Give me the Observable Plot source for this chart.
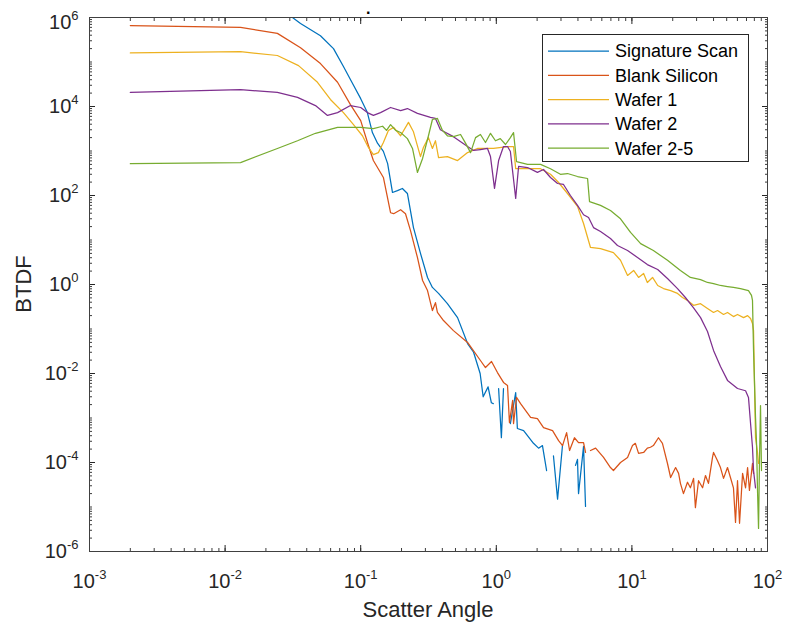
<!DOCTYPE html>
<html>
<head>
<meta charset="utf-8">
<script src="https://cdn.jsdelivr.net/npm/d3@7"></script>
<script src="https://cdn.jsdelivr.net/npm/@observablehq/plot@0.6"></script>
<style>
  html, body { margin: 0; padding: 0; background: #ffffff; }
  svg { display: block; }
</style>
</head>
<body>
<div id="chart"></div>
<script>
// ---------------- data ----------------
const seriesNames = ["Signature Scan", "Blank Silicon", "Wafer 1", "Wafer 2", "Wafer 2-5"];
const seriesColors = ["#0072BD", "#D95319", "#EDB120", "#7E2F8E", "#77AC30"];

const signatureAngle = [0.028, 0.036, 0.0505, 0.063, 0.0746, 0.0885, 0.1, 0.112, 0.122, 0.133, 0.147, 0.158, 0.1715, 0.1866, 0.203, 0.221, 0.245, 0.276, 0.311, 0.338, 0.375, 0.436, 0.518, 0.614, 0.68, 0.76, 0.80, 0.87, 0.92, 0.95, 1.0, 1.04, 1.09, 1.13, 1.2, 1.27, 1.39, 1.43, 1.59, 1.88, 2.05, 2.19, 2.35, 2.5, 2.64, 2.83, 3.08, 3.5, 3.84, 3.97, 4.04, 4.40, 4.55];
const signatureBTDF = [1.3e6, 7.3e5, 3.9e5, 2.0e5, 7.9e4, 3.0e4, 1.5e4, 7.3e3, 2.6e3, 1.5e3, 980, 520, 117, 129, 144, 111, 19, 5.0, 1.44, 0.86, 0.63, 0.37, 0.18, 0.047, 0.03, 0.01, 0.003, 0.005, 0.0022, 0.0021, null, 0.0046, 3.6e-4, 0.0046, null, 7.5e-4, 3.7e-3, 5.8e-4, 5.2e-4, 2.7e-4, 2.1e-4, 2.4e-4, 6.6e-5, null, 1.4e-4, 1.5e-5, 2.5e-4, null, 8.6e-5, 1.17e-4, 2.0e-5, 2.3e-4, 1.03e-5];

const blankAngle = [0.002, 0.013, 0.0243, 0.036, 0.0505, 0.0675, 0.084, 0.1, 0.114, 0.124, 0.147, 0.166, 0.175, 0.197, 0.214, 0.233, 0.262, 0.286, 0.311, 0.338, 0.356, 0.368, 0.408, 0.483, 0.614, 0.764, 0.832, 0.922, 1.02, 1.13, 1.21, 1.25, 1.32, 1.34, 1.41, 1.51, 1.79, 2.01, 2.23, 2.60, 2.88, 3.08, 3.30, 3.47, 3.77, 4.04, 4.40, 4.55, 4.7, 4.95, 5.40, 6.18, 6.95, 7.31, 8.24, 9.29, 10.1, 10.6, 11.2, 12.2, 13.0, 13.7, 14.4, 15.7, 16.8, 18.3, 19.3, 21.0, 22.1, 22.8, 24.0, 25.7, 27.0, 28.5, 29.4, 31.0, 33.2, 34.9, 36.7, 39.3, 40.0, 42.8, 45.0, 47.4, 50.7, 53.3, 56.1, 58.1, 60.1, 62.2, 65.5, 68.9, 71.3, 73.6, 77.5, 78.9];
const blankBTDF = [6.6e5, 6.0e5, 4.4e5, 2.1e5, 9.2e4, 3.5e4, 1.1e4, 4.8e3, 1.33e3, 610, 254, 41, 39, 48, 39, 16.3, 4.05, 1.23, 0.73, 0.26, 0.39, 0.235, 0.155, 0.092, 0.050, 0.0196, 0.0136, 0.0186, 0.0105, 0.0063, 0.0054, 7.9e-4, 0.0025, 7.5e-4, 0.0029, 0.0021, 1.03e-3, 9.7e-4, 6.1e-4, 5.2e-4, 3.1e-4, 2.4e-4, 4.7e-4, 1.86e-4, 3.6e-4, 2.8e-4, 2.8e-4, 1.68e-4, null, 1.86e-4, 2.1e-4, 1.3e-4, 7.7e-5, 6.6e-5, 1.0e-4, 1.3e-4, 2.4e-4, 2.7e-4, 1.6e-4, 1.68e-4, 2.1e-4, 2.2e-4, 2.4e-4, 3.6e-4, 2.7e-4, 9.5e-5, 4.6e-5, 7.7e-5, 5.7e-5, 3.4e-5, 2.0e-5, 3.6e-5, 2.7e-5, 4.4e-5, 9.7e-6, 3.9e-5, 2.7e-5, 5.1e-5, 3.4e-5, 1.3e-4, 1.68e-4, 1.1e-4, 7.7e-5, 4.4e-5, 7.7e-5, 4.6e-5, 2.7e-5, 4.5e-6, 3.9e-5, 4.3e-6, 5.7e-5, 2.7e-5, 7.7e-5, 2.35e-5, 9.5e-5, 5.7e-5];

const wafer1Angle = [0.002, 0.013, 0.0243, 0.0348, 0.048, 0.0598, 0.0746, 0.0885, 0.103, 0.114, 0.124, 0.135, 0.147, 0.160, 0.175, 0.197, 0.225, 0.245, 0.276, 0.290, 0.316, 0.338, 0.356, 0.375, 0.436, 0.518, 0.614, 0.726, 0.953, 1.21, 1.34, 1.39, 1.70, 2.12, 2.51, 2.88, 3.35, 3.97, 4.40, 4.95, 5.87, 7.31, 8.24, 9.29, 10.3, 11.2, 12.2, 13.0, 14.2, 15.5, 17.1, 19.3, 21.7, 23.6, 25.7, 28.5, 32.1, 36.1, 40.0, 42.8, 47.4, 50.7, 56.1, 60.1, 66.6, 71.3, 75.0, 77.5, 78.9, 81.6, 84.4, 85.9];
const wafer1BTDF = [1.6e5, 1.7e5, 1.4e5, 8.3e4, 3.5e4, 1.44e4, 7.3e3, 3.9e3, 2.2e3, 1.2e3, 830, 920, 1.55e3, 2.9e3, 3.4e3, 2.2e3, 4.4e3, 2.7e3, 750, 1.2e3, 2.0e3, 1.14e3, 1.7e3, 710, 750, 610, 920, 1.14e3, 1.14e3, 1.26e3, 1.26e3, 400, 400, 400, 300, 196, 111, 57, 23.5, 6.8, 6.4, 5.2, 3.5, 1.6, 2.07, 1.44, 1.77, 1.11, 1.44, 0.95, 0.81, 0.73, 0.63, 0.51, 0.44, 0.34, 0.37, 0.29, 0.235, 0.26, 0.212, 0.235, 0.19, 0.212, 0.18, 0.20, 0.172, 0.133, 0.092, 3.6e-4, 1.68e-4, 9.5e-5];

const wafer2Angle = [0.002, 0.013, 0.0243, 0.0342, 0.0464, 0.0569, 0.0675, 0.084, 0.1, 0.112, 0.124, 0.140, 0.166, 0.197, 0.221, 0.262, 0.327, 0.356, 0.387, 0.483, 0.614, 0.679, 0.764, 0.861, 0.906, 0.970, 1.04, 1.13, 1.21, 1.27, 1.39, 1.46, 1.70, 2.01, 2.23, 2.51, 2.83, 3.13, 3.52, 3.97, 4.40, 4.79, 5.21, 5.87, 6.95, 7.83, 9.29, 11.0, 13.0, 15.5, 18.3, 21.7, 24.8, 28.5, 32.1, 36.1, 40.0, 45.0, 50.7, 60.1, 68.9, 72.4, 75.0, 77.5, 78.9, 81.6];
const wafer2BTDF = [2.07e4, 2.4e4, 2.07e4, 1.6e4, 1.05e4, 6.3e3, 7.3e3, 1.05e4, 9.5e3, 7.3e3, 6.3e3, 7.3e3, 9.5e3, 8.1e3, 9.0e3, 7.0e3, 5.7e3, 5.4e3, 3.0e3, 2.1e3, 1.26e3, 1.03e3, 1.08e3, 1.14e3, 750, 144, 610, 1.26e3, 1.26e3, 975, 86, 450, 425, 330, 384, 254, 186, 177, 100, 60, 37, 32, 19, 15.5, 10.8, 7.5, 5.8, 4.05, 2.8, 2.17, 1.36, 0.81, 0.51, 0.30, 0.18, 0.088, 0.033, 0.0144, 0.0070, 0.0046, 0.0041, 0.0029, 7.5e-4, 2.2e-4, 6.6e-5, 2.7e-5];

const wafer25Angle = [0.002, 0.013, 0.0243, 0.0342, 0.0464, 0.0675, 0.1, 0.124, 0.145, 0.155, 0.166, 0.181, 0.197, 0.221, 0.241, 0.262, 0.286, 0.316, 0.338, 0.368, 0.401, 0.436, 0.483, 0.545, 0.593, 0.646, 0.703, 0.764, 0.832, 0.906, 0.986, 1.07, 1.17, 1.27, 1.34, 1.41, 1.70, 2.12, 2.51, 2.97, 3.35, 3.97, 4.71, 4.87, 5.87, 6.95, 8.24, 9.77, 11.6, 14.4, 18.3, 22.8, 27.0, 32.1, 36.1, 40.0, 45.0, 50.7, 56.1, 63.2, 72.4, 76.2, 77.5, 78.9, 81.6, 83.0, 84.4, 85.9, 87.3, 88.8, 90.3];
const wafer25BTDF = [520, 550, 1.14e3, 1.7e3, 2.5e3, 3.4e3, 3.4e3, 3.2e3, 3.6e3, 2.9e3, 3.9e3, 2.9e3, 2.6e3, 1.9e3, 1.14e3, 330, 680, 2.2e3, 5.1e3, 5.4e3, 2.9e3, 2.2e3, 2.1e3, 2.35e3, 1.5e3, 920, 2.0e3, 2.35e3, 1.55e3, 2.5e3, 1.7e3, 1.9e3, 1.4e3, 2.0e3, 2.6e3, 580, 500, 500, 400, 300, 312, 267, 241, 73, 60, 46, 30, 14.8, 8.3, 5.8, 3.5, 2.07, 1.44, 1.29, 1.11, 1.05, 0.95, 0.90, 0.86, 0.81, 0.73, 0.57, 0.44, 0.033, 1.03e-3, 2.7e-4, 2.35e-5, 3.3e-6, 1.1e-4, 1.9e-3, 6.6e-5];

const xMajorTicks = [1e-3, 1e-2, 1e-1, 1e0, 1e1, 1e2];
const xTickLabels = ["10^-3", "10^-2", "10^-1", "10^0", "10^1", "10^2"];
const yMajorTicks = [1e-6, 1e-4, 1e-2, 1e0, 1e2, 1e4, 1e6];
const yTickLabels = ["10^-6", "10^-4", "10^-2", "10^0", "10^2", "10^4", "10^6"];
const xTitle = "Scatter Angle";
const yTitle = "BTDF";

// ---------------- chart ----------------
const seriesAngles = [signatureAngle, blankAngle, wafer1Angle, wafer2Angle, wafer25Angle];
const seriesBTDF = [signatureBTDF, blankBTDF, wafer1BTDF, wafer2BTDF, wafer25BTDF];
const rows = seriesAngles.map((angles, s) => angles.map((a, i) => ({angle: a, btdf: seriesBTDF[s][i]})));

const xLabelOf = new Map(xMajorTicks.map((v, i) => [v, xTickLabels[i]]));
const yLabelOf = new Map(yMajorTicks.map((v, i) => [v, yTickLabels[i]]));

// minor tick positions: 1..9 x 10^k within each axis domain
function logMinor(lo, hi) {
  const out = [];
  for (let k = lo; k < hi; k++) for (let m = 1; m <= 9; m++) out.push(+(m + "e" + k));
  out.push(+("1e" + hi));
  return out;
}
const xMinorTicks = logMinor(-3, 2);
const yMinorTicks = logMinor(-6, 6);

const axisColor = "#262626";
const FONT = "'Liberation Sans', Arial, Helvetica, sans-serif";

const chart = Plot.plot({
  width: 785,
  height: 624,
  marginLeft: 89,
  marginRight: 18,
  marginTop: 17,
  marginBottom: 73,
  style: {fontFamily: FONT, background: "#ffffff", color: axisColor, overflow: "visible"},
  x: {type: "log", domain: [1e-3, 1e2]},
  y: {type: "log", domain: [1e-6, 1e6]},
  marks: [
    // minor ticks (inward, all four sides)
    Plot.axisX({ticks: xMinorTicks, tickSize: -3, fill: "none", label: null, stroke: axisColor, strokeWidth: 0.9}),
    Plot.axisX({anchor: "top", ticks: xMinorTicks, tickSize: -3, fill: "none", label: null, stroke: axisColor, strokeWidth: 0.9}),
    Plot.axisY({ticks: yMinorTicks, tickSize: -3, fill: "none", label: null, stroke: axisColor, strokeWidth: 0.9}),
    Plot.axisY({anchor: "right", ticks: yMinorTicks, tickSize: -3, fill: "none", label: null, stroke: axisColor, strokeWidth: 0.9}),
    // major ticks with labels
    Plot.axisX({ticks: xMajorTicks, tickSize: -6, tickPadding: 28, tickFormat: d => xLabelOf.get(d), fontSize: 20, label: null, stroke: axisColor, fill: axisColor}),
    Plot.axisX({anchor: "top", ticks: xMajorTicks, tickSize: -6, fill: "none", label: null, stroke: axisColor}),
    Plot.axisY({ticks: yMajorTicks, tickSize: -6, tickPadding: 17, tickFormat: d => yLabelOf.get(d), fontSize: 20, label: null, stroke: axisColor, fill: axisColor}),
    Plot.axisY({anchor: "right", ticks: yMajorTicks, tickSize: -6, fill: "none", label: null, stroke: axisColor}),
    // data lines
    ...rows.map((r, s) => Plot.line(r, {x: "angle", y: "btdf", stroke: seriesColors[s], strokeWidth: 1.25, clip: true})),
    Plot.frame({stroke: "#404040", strokeWidth: 1})
  ]
});

// superscript exponents in tick labels
const NS = "http://www.w3.org/2000/svg";
function supify(sel, raise, topShift) {
  chart.querySelectorAll(sel).forEach(t => {
    const s = t.textContent;
    if (!s.includes("^")) return;
    const [base, exp] = s.split("^");
    t.textContent = "";
    const b = document.createElementNS(NS, "tspan");
    b.textContent = base;
    if (topShift && s === "10^6") b.setAttribute("dy", "5");
    const e = document.createElementNS(NS, "tspan");
    e.textContent = exp;
    e.setAttribute("dy", String(-raise));
    e.setAttribute("font-size", "13");
    t.append(b, e);
  });
}
supify('[aria-label="x-axis tick label"] text', 9, false);
supify('[aria-label="y-axis tick label"] text', 8.5, true);

const svg = d3.select(chart);

// axis titles
svg.append("text")
  .attr("x", 428).attr("y", 617)
  .attr("text-anchor", "middle")
  .attr("font-family", FONT).attr("font-size", 22).attr("fill", axisColor)
  .text(xTitle);
svg.append("text")
  .attr("transform", "translate(31,284) rotate(-90)")
  .attr("text-anchor", "middle")
  .attr("font-family", FONT).attr("font-size", 22).attr("fill", axisColor)
  .text(yTitle);

// small title mark at top
svg.append("text")
  .attr("x", 366).attr("y", 14)
  .attr("text-anchor", "start")
  .attr("font-family", FONT).attr("font-size", 16).attr("font-weight", "bold").attr("fill", "#000")
  .text(".");

// legend
const lg = svg.append("g");
lg.append("rect")
  .attr("x", 542.5).attr("y", 34.5).attr("width", 206).attr("height", 127)
  .attr("fill", "#ffffff").attr("stroke", axisColor).attr("stroke-width", 1);
seriesNames.forEach((name, i) => {
  const cy = 51 + i * 24.3;
  lg.append("line")
    .attr("x1", 548).attr("x2", 609).attr("y1", cy).attr("y2", cy)
    .attr("stroke", seriesColors[i]).attr("stroke-width", 1.25);
  lg.append("text")
    .attr("x", 615).attr("y", cy + 6.3)
    .attr("text-anchor", "start")
    .attr("font-family", FONT).attr("font-size", 18).attr("fill", "#000")
    .text(name);
});

document.getElementById("chart").append(chart);
</script>
</body>
</html>
